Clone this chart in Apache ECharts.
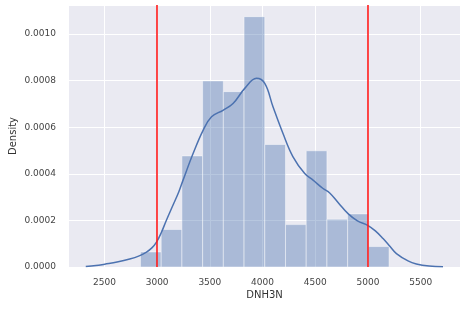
<!DOCTYPE html>
<html>
<head>
<meta charset="utf-8">
<script src="https://cdn.jsdelivr.net/npm/echarts@6/dist/echarts.min.js"></script>
<style>html,body{margin:0;padding:0;background:#fff}#c{width:468px;height:310px}</style>
</head>
<body>
<div id="c"></div>
<script>
// Histogram bins (DNH3N) and densities
const binEdges = [2842, 3038.5, 3235, 3431.5, 3628, 3824.5, 4021, 4217.5, 4414, 4610.5, 4807, 5003.5, 5200];
const binDensity = [0.0000645, 0.000161, 0.000477, 0.000799, 0.000753, 0.001075, 0.000526, 0.000182, 0.000499, 0.000205, 0.000228, 0.0000877];
// KDE curve samples
const kdeX = [2323, 2420, 2503, 2620, 2740, 2830, 2899, 2950, 2994, 3040, 3088, 3150, 3205, 3246, 3341, 3436, 3516, 3625, 3720, 3831, 3942, 4021, 4099, 4194, 4289, 4400, 4479, 4574, 4637, 4720, 4811, 4900, 5001, 5070, 5143, 5210, 5270, 5380, 5459, 5580, 5712];
const kdeY = [0.000002, 0.000006, 0.000012, 0.000021, 0.000034, 0.000048, 0.000064, 0.000082, 0.000107, 0.000148, 0.000201, 0.000265, 0.000322, 0.000373, 0.000487, 0.000587, 0.000645, 0.000673, 0.000702, 0.000767, 0.00081, 0.000788, 0.000688, 0.000573, 0.000473, 0.000401, 0.000373, 0.000337, 0.000318, 0.000275, 0.000229, 0.000198, 0.000178, 0.000155, 0.000122, 0.000088, 0.0000576, 0.000026, 0.000013, 0.000004, 0.000001];
// Reference lines
const refLines = [3000, 5000];
// Tick labels
const xTicks = [2500, 3000, 3500, 4000, 4500, 5000, 5500];
const yTicks = [0, 0.0002, 0.0004, 0.0006, 0.0008, 0.0010];

const histData = binDensity.map((d, i) => [binEdges[i], binEdges[i + 1], d]);
const kdeData = kdeX.map((x, i) => [x, kdeY[i]]);

const chart = echarts.init(document.getElementById('c'), null, {renderer: 'canvas'});
const font = 'DejaVu Sans';
chart.setOption({
  animation: false,
  backgroundColor: '#ffffff',
  grid: {left: 69, right: 8, top: 5, bottom: 43, show: true, backgroundColor: '#EAEAF2', borderWidth: 0,
    containLabel: false, outerBoundsMode: 'none'},
  xAxis: {
    type: 'value', min: 2164, max: 5873,
    name: 'DNH3N', nameLocation: 'middle', nameGap: 23, nameMoveOverlap: false,
    nameTextStyle: {fontFamily: font, fontSize: 10, color: '#333'},
    axisLine: {show: false},
    axisTick: {show: false, customValues: xTicks},
    axisLabel: {customValues: xTicks, fontFamily: font, fontSize: 9, color: '#444', margin: 11,
      formatter: v => String(Math.round(v))},
    splitLine: {show: true, lineStyle: {color: '#ffffff', width: 1}}
  },
  yAxis: {
    type: 'value', min: 0, max: 0.001125, interval: 0.0002,
    name: 'Density', nameLocation: 'middle', nameGap: 51, nameMoveOverlap: false,
    nameTextStyle: {fontFamily: font, fontSize: 10, color: '#333'},
    axisLine: {show: false}, axisTick: {show: false},
    axisLabel: {showMaxLabel: false, fontFamily: font, fontSize: 9, color: '#444', margin: 13,
      formatter: v => v.toFixed(4)},
    splitLine: {show: true, lineStyle: {color: '#ffffff', width: 1}}
  },
  series: [
    {
      type: 'custom', z: 2,
      renderItem: (params, api) => {
        const p0 = api.coord([api.value(0), 0]);
        const p1 = api.coord([api.value(1), api.value(2)]);
        return {
          type: 'rect',
          shape: {x: p0[0], y: p1[1], width: p1[0] - p0[0], height: p0[1] - p1[1]},
          style: {fill: 'rgba(76,114,176,0.4)', stroke: 'rgba(255,255,255,0.45)', lineWidth: 1}
        };
      },
      encode: {x: [0, 1], y: 2},
      data: histData
    },
    {
      type: 'line', z: 3, data: kdeData, smooth: 0.4, showSymbol: false, symbol: 'none',
      lineStyle: {color: '#4C72B0', width: 1.5},
      markLine: {
        silent: true, symbol: 'none', label: {show: false},
        lineStyle: {color: '#ff1a1a', width: 1.6, type: 'solid'},
        data: refLines.map(v => ({xAxis: v}))
      }
    }
  ]
});
</script>
</body>
</html>
